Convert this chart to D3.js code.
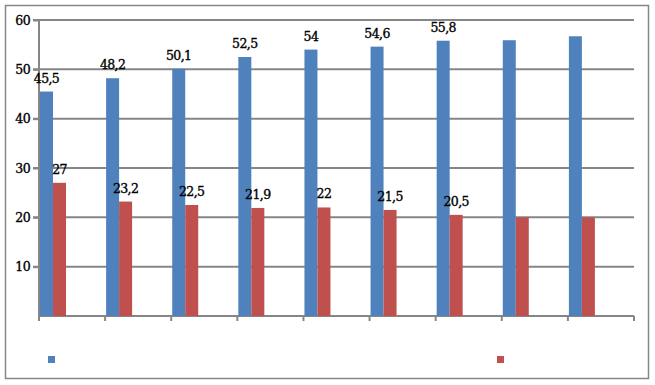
<!DOCTYPE html>
<html>
<head>
<meta charset="utf-8">
<script src="https://cdn.jsdelivr.net/npm/d3@7"></script>
<style>
  body { margin: 0; background: #fff; }
  svg text { font-family: "DejaVu Serif", serif; stroke: #000; stroke-width: 0.35px; }
</style>
</head>
<body>
<div id="chart-area"></div>
<script>
// data
var categories = ["1", "2", "3", "4", "5", "6", "7", "8", "9"];
var blueValues = [45.5, 48.2, 50.1, 52.5, 54, 54.6, 55.8, 55.9, 56.7];
var redValues = [27, 23.2, 22.5, 21.9, 22, 21.5, 20.5, 20, 20];
var blueLabels = ["45,5", "48,2", "50,1", "52,5", "54", "54,6", "55,8", "", ""];
var redLabels = ["27", "23,2", "22,5", "21,9", "22", "21,5", "20,5", "", ""];
var yTicks = [10, 20, 30, 40, 50, 60];

var W = 655, H = 385;
var margin = {top: 20, right: 21, bottom: 69, left: 39},
    width = W - margin.left - margin.right,
    height = H - margin.top - margin.bottom;

var svg = d3.select("#chart-area")
    .append("svg")
        .attr("width", W)
        .attr("height", H);

// outer frame
svg.append("rect")
    .attr("x", 5.5)
    .attr("y", 5.5)
    .attr("width", 643)
    .attr("height", 373)
    .attr("fill", "none")
    .attr("stroke", "#868686")
    .attr("stroke-width", 1.5);

var g = svg.append("g")
    .attr("transform", "translate(" + margin.left + "," + margin.top + ")");

var x = d3.scaleBand()
    .domain(categories)
    .range([0, width])
    .padding(0);

var y = d3.scaleLinear()
    .domain([0, 60])
    .range([height, 0]);

var barW = 13;

// gridlines
g.selectAll(".grid")
    .data(yTicks)
    .enter()
    .append("line")
        .attr("class", "grid")
        .attr("x1", -6)
        .attr("x2", width)
        .attr("y1", (d) => y(d))
        .attr("y2", (d) => y(d))
        .attr("stroke", "#868686")
        .attr("stroke-width", 2);

// y axis
var yAxisCall = d3.axisLeft(y)
    .tickValues(yTicks)
    .tickSize(6)
    .tickPadding(3)
    .tickFormat((d) => d);

var yAxis = g.append("g")
    .attr("class", "y axis")
    .call(yAxisCall);
yAxis.select(".domain")
    .attr("stroke", "#868686")
    .attr("stroke-width", 2)
    .attr("d", "M0," + height + "V0");
yAxis.selectAll(".tick line")
    .attr("stroke", "#868686")
    .attr("stroke-width", 2);
yAxis.selectAll("text")
    .attr("font-size", "12.5px")
    .attr("fill", "#000")
    .attr("letter-spacing", "-0.6px");

// x axis (ticks at category boundaries)
var xBounds = categories.map((c) => x(c)).concat([width]);
g.append("line")
    .attr("x1", 0)
    .attr("x2", width)
    .attr("y1", height)
    .attr("y2", height)
    .attr("stroke", "#868686")
    .attr("stroke-width", 2);
g.selectAll(".xtick")
    .data(xBounds)
    .enter()
    .append("line")
        .attr("class", "xtick")
        .attr("x1", (d) => d)
        .attr("x2", (d) => d)
        .attr("y1", height)
        .attr("y2", height + 5)
        .attr("stroke", "#868686")
        .attr("stroke-width", 2);

// bars
g.selectAll(".blue")
    .data(blueValues)
    .enter()
    .append("rect")
        .attr("class", "blue")
        .attr("x", (d, i) => x(categories[i]) + 1)
        .attr("y", (d) => y(d))
        .attr("width", barW)
        .attr("height", (d) => height - y(d))
        .attr("fill", "#4f81bd");

g.selectAll(".red")
    .data(redValues)
    .enter()
    .append("rect")
        .attr("class", "red")
        .attr("x", (d, i) => x(categories[i]) + 1 + barW)
        .attr("y", (d) => y(d))
        .attr("width", barW)
        .attr("height", (d) => height - y(d))
        .attr("fill", "#c0504d");

// value labels
g.selectAll(".blabel")
    .data(blueValues)
    .enter()
    .append("text")
        .attr("class", "blabel")
        .attr("x", (d, i) => x(categories[i]) + 1 + barW / 2)
        .attr("y", (d) => y(d) - 9)
        .attr("text-anchor", "middle")
        .attr("font-size", "12.5px")
        .attr("letter-spacing", "-0.6px")
        .text((d, i) => blueLabels[i]);

g.selectAll(".rlabel")
    .data(redValues)
    .enter()
    .append("text")
        .attr("class", "rlabel")
        .attr("x", (d, i) => x(categories[i]) + 1 + barW * 1.5)
        .attr("y", (d) => y(d) - 9)
        .attr("text-anchor", "middle")
        .attr("font-size", "12.5px")
        .attr("letter-spacing", "-0.6px")
        .text((d, i) => redLabels[i]);

// legend (series have no names)
svg.append("rect")
    .attr("x", 48)
    .attr("y", 356)
    .attr("width", 7)
    .attr("height", 7)
    .attr("fill", "#4f81bd");
svg.append("rect")
    .attr("x", 497)
    .attr("y", 356)
    .attr("width", 7)
    .attr("height", 7)
    .attr("fill", "#c0504d");
</script>
</body>
</html>
